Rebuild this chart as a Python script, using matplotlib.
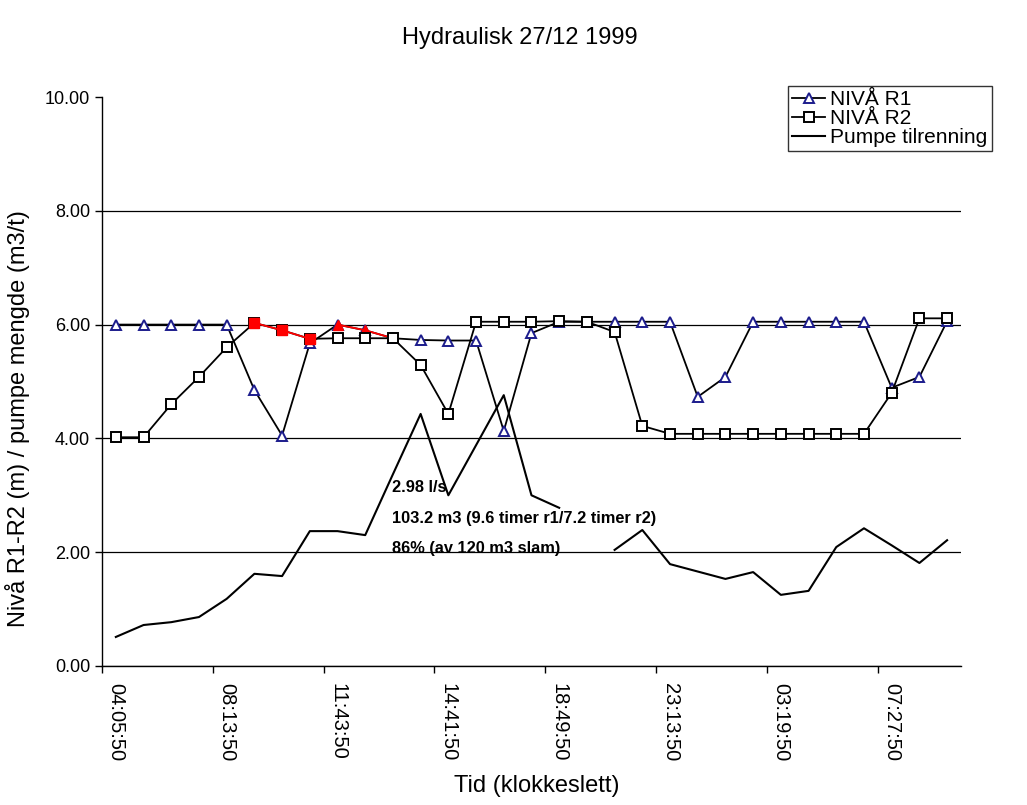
import matplotlib
import numpy as np

matplotlib.use("Agg")
import matplotlib.pyplot as plt

plt.rcParams["font.family"] = ["Liberation Sans", "DejaVu Sans"]

niva_r1 = [6.00, 6.00, 6.00, 6.00, 6.00, 4.85, 4.05, 5.67, 6.00, 5.90,
           5.76, 5.73, 5.72, 5.72, 4.13, 5.85, 6.05, 6.05, 6.05, 6.05,
           6.05, 4.73, 5.08, 6.05, 6.05, 6.05, 6.05, 6.05, 4.89, 5.08,
           6.06]
niva_r2 = [4.02, 4.02, 4.60, 5.08, 5.60, 6.03, 5.90, 5.75, 5.76, 5.76,
           5.76, 5.29, 4.43, 6.05, 6.05, 6.05, 6.06, 6.05, 5.87, 4.22,
           4.08, 4.08, 4.08, 4.08, 4.08, 4.08, 4.08, 4.08, 4.80, 6.11,
           6.11]
pumpe = [0.51, 0.72, 0.77, 0.86, 1.18, 1.62, 1.58, 2.37, 2.37, 2.30,
         3.37, 4.43, 3.00, 3.88, 4.76, 3.00, 2.78, np.nan, 2.04, 2.39,
         1.79, 1.66, 1.53, 1.65, 1.25, 1.32, 2.09, 2.42, 2.12, 1.81,
         2.21]

# highlighted (red) stretches, as sample index ranges [start, stop)
r1_red = (8, 11)
r2_red = (5, 8)

tick_labels = ["04:05:50", "08:13:50", "11:43:50", "14:41:50",
               "18:49:50", "23:13:50", "03:19:50", "07:27:50"]
label_every = 4

annotation = ["2.98 l/s",
              "103.2 m3 (9.6 timer r1/7.2 timer r2)",
              "86% (av 120 m3 slam)"]

x = np.arange(len(niva_r1))

fig = plt.figure(figsize=(10.27, 8.05), dpi=100)
ax = fig.add_axes([0.0993, 0.1727, 0.8364, 0.7068])

# R1
ax.plot(x, niva_r1, color="black", linewidth=1.3, marker="^", markersize=7.5,
        markerfacecolor="white", markeredgecolor="#1c1c8c", markeredgewidth=1.4,
        label="NIVÅ R1", zorder=3)
s, e = r1_red
ax.plot(x[s:e], niva_r1[s:e], color="red", linewidth=1.3, marker="^", markersize=7.5,
        markerfacecolor="red", markeredgecolor="red", markevery=list(range(e - s - 1)),
        zorder=4)

# R2
ax.plot(x, niva_r2, color="black", linewidth=1.3, marker="s", markersize=7.5,
        markerfacecolor="white", markeredgecolor="black", markeredgewidth=1.4,
        label="NIVÅ R2", zorder=5)
s, e = r2_red
ax.plot(x[s:e], niva_r2[s:e], color="red", linewidth=1.3, marker="s", markersize=7.5,
        markerfacecolor="red", markeredgecolor="red", zorder=6)

# pump inflow
ax.plot(x, pumpe, color="black", linewidth=1.5, label="Pumpe tilrenning", zorder=3)

ax.text(9.95, 3.27, "\n".join(annotation), fontsize=11.8, fontweight="bold",
        va="top", ha="left", linespacing=2.3, zorder=7)

ax.set_xlim(-0.5, len(x) - 0.5)
ax.set_ylim(0, 10)
ax.set_yticks(np.arange(0, 10.01, 2))
ax.set_yticklabels([f"{v:.2f}" for v in np.arange(0, 10.01, 2)], fontsize=13)
ax.grid(axis="y", color="black", linewidth=0.9)
ax.get_ygridlines()[-1].set_visible(False)
ax.set_axisbelow(True)

# tick marks between categories, labels on every 4th sample
ax.set_xticks(np.arange(-0.5, len(x) - 1, label_every))
ax.set_xticklabels([])
ax.set_xticks(np.arange(0, len(x), label_every)[:len(tick_labels)], minor=True)
ax.set_xticklabels(tick_labels, minor=True, rotation=270, fontsize=14.5)
ax.tick_params(axis="x", which="minor", length=0, pad=12)
ax.tick_params(axis="both", which="major", length=5, width=1, direction="out")

for side in ("top", "right"):
    ax.spines[side].set_visible(False)
for side in ("left", "bottom"):
    ax.spines[side].set_linewidth(1.0)

ax.set_xlabel("Tid (klokkeslett)", fontsize=17)
ax.xaxis.set_label_coords(0.506, -0.192)
ax.set_ylabel("Nivå R1-R2 (m) / pumpe mengde (m3/t)", fontsize=17)
ax.yaxis.set_label_coords(-0.0838, 0.434)

fig.text(0.506, 0.953, "Hydraulisk 27/12 1999", fontsize=17, ha="center", va="center")

leg = ax.legend(loc="upper left", bbox_to_anchor=(0.767, 0.893),
                bbox_transform=fig.transFigure, fontsize=15, frameon=True,
                fancybox=False, borderpad=0.2, labelspacing=0.0,
                handlelength=1.6, handletextpad=0.25, borderaxespad=0)
leg.get_frame().set_edgecolor("black")
leg.get_frame().set_linewidth(1.0)

fig.savefig("out.png", dpi=100)
